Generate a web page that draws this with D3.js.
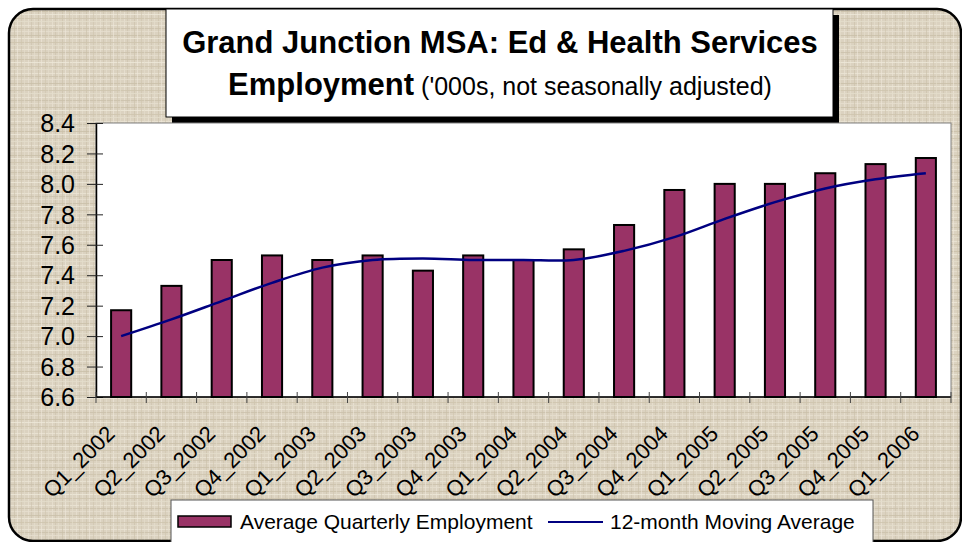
<!DOCTYPE html>
<html>
<head>
<meta charset="utf-8">
<script src="https://cdn.jsdelivr.net/npm/d3@7"></script>
<style>
  body { margin: 0; background: #fff; }
  text { font-family: "Liberation Sans", Arial, sans-serif; }
</style>
</head>
<body>
<div class="chart"></div>
<script>
let quarters = ['Q1_2002', 'Q2_2002', 'Q3_2002', 'Q4_2002', 'Q1_2003', 'Q2_2003', 'Q3_2003', 'Q4_2003',
  'Q1_2004', 'Q2_2004', 'Q3_2004', 'Q4_2004', 'Q1_2005', 'Q2_2005', 'Q3_2005', 'Q4_2005', 'Q1_2006'];
let employment = [7.17, 7.33, 7.50, 7.53, 7.50, 7.53, 7.43, 7.53,
  7.50, 7.57, 7.73, 7.96, 8.00, 8.00, 8.07, 8.13, 8.17];
let movingAvg = [7.00, 7.11, 7.23, 7.35, 7.45, 7.50, 7.51, 7.50,
  7.50, 7.50, 7.56, 7.65, 7.77, 7.88, 7.97, 8.03, 8.07];
let yTicks = [6.6, 6.8, 7.0, 7.2, 7.4, 7.6, 7.8, 8.0, 8.2, 8.4];
let legendLabels = ['Average Quarterly Employment', '12-month Moving Average'];

var W = 962, H = 542;
var plot = {left: 96, top: 123, right: 951, bottom: 397};
var barColor = '#993366';
var lineColor = '#000080';

let svg = d3.select('.chart')
  .append('svg')
  .attr('width', W)
  .attr('height', H)
;

// linen-ish texture for the chart background
let defs = svg.append('defs');
let pat = defs.append('pattern')
  .attr('id', 'linen')
  .attr('patternUnits', 'userSpaceOnUse')
  .attr('width', 24)
  .attr('height', 24);
pat.append('rect').attr('width', 24).attr('height', 24).attr('fill', '#dbd2c0');
[[1, '#ebe5d6'], [4, '#cbc1ab'], [7, '#e6dfcf'], [11, '#c9bfa9'], [14, '#eee8da'], [18, '#cec4ae'], [21, '#e4ddcc']]
  .forEach(function(l) {
    pat.append('rect').attr('x', 0).attr('y', l[0]).attr('width', 24).attr('height', 1).attr('fill', l[1]).attr('opacity', 0.8);
    pat.append('rect').attr('x', (l[0] + 3) % 24).attr('y', 0).attr('width', 1).attr('height', 24).attr('fill', l[1]).attr('opacity', 0.6);
  });

svg.append('rect')
  .attr('x', 9)
  .attr('y', 9)
  .attr('width', 952)
  .attr('height', 532)
  .attr('rx', 24)
  .style('fill', 'url(#linen)')
  .style('stroke', '#000')
  .style('stroke-width', 2.5);

// title box with drop shadow
svg.append('rect')
  .attr('x', 172).attr('y', 15)
  .attr('width', 667).attr('height', 109)
  .style('fill', '#000');
svg.append('rect')
  .attr('x', 166).attr('y', 9)
  .attr('width', 667).attr('height', 108)
  .style('fill', '#fff')
  .style('stroke', '#000')
  .style('stroke-width', 1);

svg.append('text')
  .attr('x', 500).attr('y', 53)
  .style('text-anchor', 'middle')
  .style('font-size', '31px')
  .style('font-weight', 'bold')
  .text('Grand Junction MSA: Ed & Health Services');

let sub = svg.append('text')
  .attr('x', 500).attr('y', 95)
  .style('text-anchor', 'middle');
sub.append('tspan').style('font-size', '31px').style('font-weight', 'bold').text('Employment');
sub.append('tspan').style('font-size', '25px').text(" ('000s, not seasonally adjusted)");

// plot area
svg.append('rect')
  .attr('x', plot.left).attr('y', plot.top)
  .attr('width', plot.right - plot.left).attr('height', plot.bottom - plot.top)
  .style('fill', '#fff')
  .style('stroke', '#808080')
  .style('stroke-width', 1);

let xScale = d3.scaleBand()
  .domain(quarters)
  .range([plot.left, plot.right])
  .paddingInner(0.6)
  .paddingOuter(0.3);

let yScale = d3.scaleLinear()
  .domain([6.6, 8.4])
  .range([plot.bottom, plot.top]);

let step = xScale.step();
let bandEdge = d => xScale(d) - xScale.paddingInner() * step / 2;

svg.selectAll('.bar')
  .data(quarters)
  .enter()
  .append('rect')
  .attr('class', 'bar')
  .attr('x', d => xScale(d))
  .attr('width', xScale.bandwidth())
  .attr('y', (d, i) => yScale(employment[i]))
  .attr('height', (d, i) => yScale(6.6) - yScale(employment[i]))
  .style('fill', barColor)
  .style('stroke', '#000')
  .style('stroke-width', 2);

let line = d3.line()
  .x((d, i) => xScale(quarters[i]) + xScale.bandwidth() / 2)
  .y(d => yScale(d))
  .curve(d3.curveCatmullRom);

svg.append('path')
  .datum(movingAvg)
  .attr('d', line)
  .style('fill', 'none')
  .style('stroke', lineColor)
  .style('stroke-width', 2.5);

// y axis
let yAxis = d3.axisLeft(yScale)
  .tickValues(yTicks)
  .tickFormat(d3.format('.1f'))
  .tickSize(0)
  .tickPadding(21);
let yG = svg.append('g')
  .attr('transform', `translate(${plot.left}, 0)`)
  .call(yAxis);
yG.select('.domain').style('stroke', '#000').style('stroke-width', 1.5);
yG.selectAll('.tick text').style('font-size', '25px').style('fill', '#000').attr('dy', '0.35em');
yG.selectAll('.tick')
  .append('line')
  .attr('x1', -9).attr('x2', 7)
  .style('stroke', '#222');

// x axis with crossing ticks at the category borders
svg.append('line')
  .attr('x1', plot.left).attr('x2', plot.right)
  .attr('y1', plot.bottom).attr('y2', plot.bottom)
  .style('stroke', '#000').style('stroke-width', 1.5);
svg.selectAll('.xtick')
  .data(quarters.concat(['end']))
  .enter()
  .append('line')
  .attr('class', 'xtick')
  .attr('x1', (d, i) => i < quarters.length ? bandEdge(d) : bandEdge(quarters[i - 1]) + step)
  .attr('x2', (d, i) => i < quarters.length ? bandEdge(d) : bandEdge(quarters[i - 1]) + step)
  .attr('y1', plot.bottom - 5)
  .attr('y2', plot.bottom + 6)
  .style('stroke', '#444');

svg.selectAll('.xlabel')
  .data(quarters)
  .enter()
  .append('text')
  .attr('class', 'xlabel')
  .attr('transform', d => `translate(${xScale(d) + xScale.bandwidth() / 2 - 5}, 435) rotate(-45)`)
  .style('text-anchor', 'end')
  .style('font-size', '22px')
  .text(d => d);

// legend
svg.append('rect')
  .attr('x', 171).attr('y', 500)
  .attr('width', 702).attr('height', 60)
  .style('fill', '#fff')
  .style('stroke', '#555')
  .style('stroke-width', 1);
svg.append('rect')
  .attr('x', 178).attr('y', 516)
  .attr('width', 53).attr('height', 11)
  .style('fill', barColor)
  .style('stroke', '#000')
  .style('stroke-width', 1.5);
svg.append('line')
  .attr('x1', 548).attr('x2', 603)
  .attr('y1', 522).attr('y2', 522)
  .style('stroke', lineColor)
  .style('stroke-width', 2);
svg.selectAll('.legtext')
  .data(legendLabels)
  .enter()
  .append('text')
  .attr('class', 'legtext')
  .attr('x', (d, i) => i === 0 ? 240 : 610)
  .attr('y', 529)
  .style('font-size', '21px')
  .text(d => d);
</script>
</body>
</html>
